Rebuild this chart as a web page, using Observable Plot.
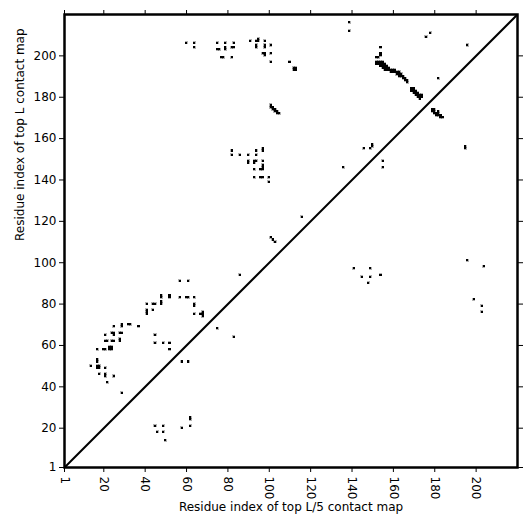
<!DOCTYPE html>
<html>
<head>
<meta charset="utf-8">
<script src="https://cdn.jsdelivr.net/npm/d3@7"></script>
<script src="https://cdn.jsdelivr.net/npm/@observablehq/plot@0.6"></script>
<style>
  html, body { margin: 0; padding: 0; background: #fff; }
  #chart { width: 531px; height: 531px; }
</style>
</head>
<body>
<div id="chart"></div>
<script>
// Residue index range shown on both axes
const residueDomain = [1, 220];
const tickValues = [1, 20, 40, 60, 80, 100, 120, 140, 160, 180, 200];
const xLabel = "Residue index of top L/5 contact map";
const yLabel = "Residue index of top L contact map";

// Contacts [x residue, y residue], grouped by region
const contactsUpperLeft = [
  [60,206],[64,206],[64,204],
  [75,206],[79,206],[83,206],[75,203],[76,203],[79,204],[79,203],[82,204],[83,204],
  [77,199],[78,199],[82,199],
  [91,207],[94,207],[95,207],[95,208],[98,207],
  [94,205],[94,204],[98,205],[98,204],[101,205],
  [97,201],[98,201],[98,200],[101,201],[101,197],
  [110,197],[112,193],[113,193],[112,194],[113,194],
  [139,216],[139,212]
];
const contactsBand = [
  [154,204],[154,201],[154,200],[152,199],[153,199],
  [152,197],[153,197],[154,197],[155,197],
  [152,196],[153,196],[154,196],[155,196],[156,196],
  [154,195],[155,195],[156,195],[157,195],
  [155,194],[156,194],[157,194],[158,194],
  [156,193],[157,193],[158,193],[159,193],[160,193],[161,193],
  [159,192],[160,192],[161,192],[162,192],[163,192],
  [162,191],[163,191],[164,191],
  [163,190],[164,190],[165,190],[165,189],[166,189],[166,188],[167,188],[167,187],
  [169,184],[170,184],[169,183],[170,183],[171,183],
  [170,182],[171,182],[172,182],
  [171,181],[172,181],[173,181],[174,181],
  [172,180],[173,180],[174,180],[173,179]
];
const contactsUpperRight = [
  [176,209],[178,211],[196,205],[182,189],
  [179,174],[180,174],[179,173],[180,173],[182,173],[180,172],[181,172],[182,172],
  [181,171],[182,171],[183,171],[183,170],[184,170],
  [195,156],[195,155],
  [146,155],[150,157],[150,156],[149,155],[155,149],[155,146],[136,146]
];
const contactsMiddle = [
  [101,176],[101,175],[102,175],[102,174],[103,174],[103,173],[104,173],[104,172],[105,172],
  [82,154],[82,152],[86,152],[90,152],[94,154],[94,152],[97,155],[97,154],
  [90,149],[90,148],[93,149],[94,149],[93,148],[97,149],
  [93,145],[97,147],[97,146],[97,145],[96,145],
  [93,141],[96,141],[97,141],[100,141],[100,139],
  [101,112],[102,111],[103,110],[116,122],[86,94]
];
const contactsLowerRight = [
  [141,97],[149,97],[145,93],[149,93],[154,94],[148,90],
  [196,101],[204,98],[199,82],[203,79],[203,76]
];
const contactsLeft = [
  [57,91],[61,91],[48,84],[48,83],[52,84],[52,83],[57,83],[60,83],[61,83],[64,83],
  [41,80],[44,80],[45,80],[48,81],[48,80],[64,80],[64,79],
  [41,77],[41,76],[41,75],[44,77],[64,75],[67,75],[68,76],[68,75],[68,74],
  [75,68],[83,64],
  [45,65],[45,61],[49,61],[52,61],[52,58],[58,52],[61,52],
  [25,69],[29,70],[29,69],[32,70],[33,70],[37,69],
  [21,65],[24,66],[25,66],[25,65],[28,66],[29,66],
  [21,62],[22,62],[24,62],[25,62],[28,63],[28,62],
  [17,58],[20,58],[21,58],[23,59],[24,59],[23,58],[24,58],
  [17,53],[17,52],[14,50],[17,50],[18,50],[17,49],[18,49],[21,49],
  [18,46],[21,46],[21,45],[25,45],[22,42],[29,37]
];
const contactsLower = [
  [62,25],[62,24],[62,21],[58,20],[45,21],[49,21],[46,18],[49,18],[50,14]
];

const contacts = [
  ...contactsUpperLeft, ...contactsBand, ...contactsUpperRight,
  ...contactsMiddle, ...contactsLowerRight, ...contactsLeft, ...contactsLower
];

const chart = Plot.plot({
  width: 531,
  height: 531,
  marginLeft: 64,
  marginRight: 14,
  marginTop: 14,
  marginBottom: 64,
  style: {fontFamily: "DejaVu Sans, sans-serif", fontSize: "12px", color: "black", background: "white"},
  x: {domain: residueDomain},
  y: {domain: residueDomain},
  marks: [
    Plot.rect(contacts, {
      x1: d => d[0] - 0.5, x2: d => d[0] + 0.5,
      y1: d => d[1] - 0.5, y2: d => d[1] + 0.5,
      fill: "black", stroke: "black", strokeWidth: 0.3,
      shapeRendering: "crispEdges"
    }),
    Plot.link([residueDomain], {
      x1: d => d[0], y1: d => d[0], x2: d => d[1], y2: d => d[1],
      stroke: "black", strokeWidth: 2
    }),
    Plot.axisX({anchor: "bottom", ticks: tickValues, tickSize: 5, tickPadding: 4, tickRotate: 90, label: null, fontSize: 12}),
    Plot.axisX({anchor: "top", ticks: tickValues, tickSize: 5, tickFormat: () => "", label: null}),
    Plot.axisY({anchor: "left", ticks: tickValues, tickSize: 5, tickPadding: 3, label: null, fontSize: 12}),
    Plot.axisY({anchor: "right", ticks: tickValues, tickSize: 5, tickFormat: () => "", label: null}),
    Plot.frame({stroke: "black", strokeWidth: 2.5}),
    Plot.text([xLabel], {frameAnchor: "bottom", dy: 43, fontSize: 12, fill: "black"}),
    Plot.text([yLabel], {frameAnchor: "left", dx: -44, rotate: -90, fontSize: 12, fill: "black"})
  ]
});
document.getElementById("chart").append(chart);
</script>
</body>
</html>
